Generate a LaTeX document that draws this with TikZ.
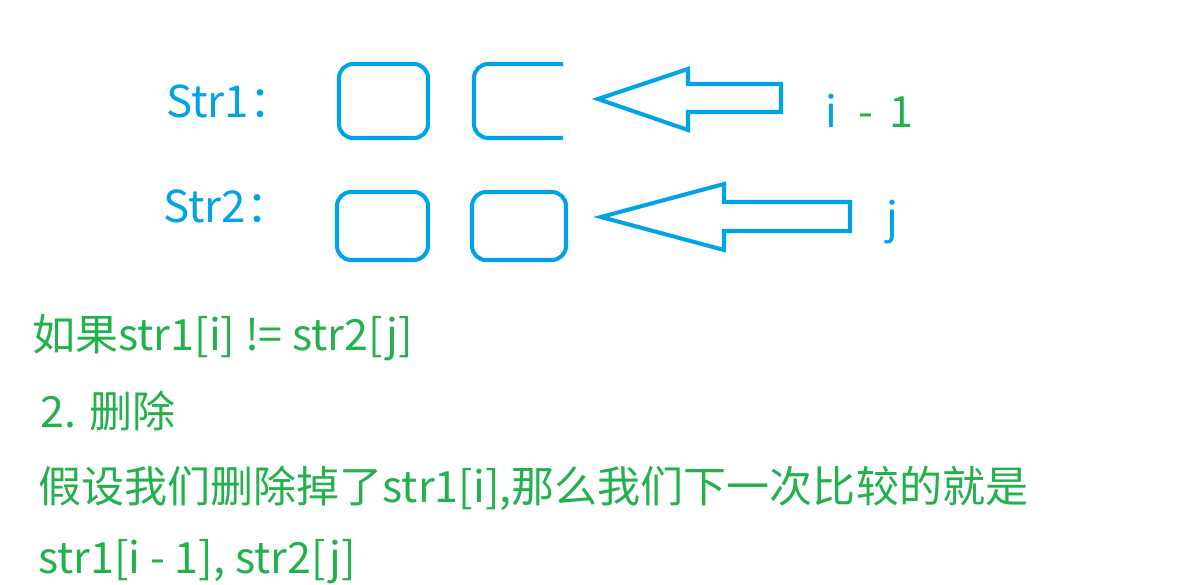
\documentclass[tikz,border=0pt]{standalone}
\usepackage{fontspec}
\setmainfont{Noto Sans CJK SC}
\usetikzlibrary{positioning}
\definecolor{strblue}{HTML}{00A2E8}
\definecolor{strgreen}{HTML}{22B14C}

\begin{document}
\begin{tikzpicture}[
    x=0.02cm, y=-0.02cm,
    kotak/.style={draw=strblue, line width=2.3pt, rounded corners=8pt, inner sep=0pt},
    panah/.style={draw=strblue, line width=2.3pt},
    lbl/.style={anchor=base west, inner sep=0pt, text=strblue, font=\fontsize{25}{30}\selectfont},
    teks/.style={anchor=base west, inner sep=0pt, text=strgreen, font=\fontsize{24.5}{29}\selectfont}
  ]
    \useasboundingbox (0,0) rectangle (1177,585);
    \node[lbl] (lblsa) at (166,117) {Str1：};
    \node[lbl] (lblsb) at (163,222) {Str2：};
    \node[kotak, minimum width=1.78cm, minimum height=1.48cm] (sa1) at (383.5,101) {};
    \begin{scope}
      \clip (0,0) rectangle (563,585);
      \node[kotak, minimum width=2.0cm, minimum height=1.48cm] (sa2) at (524,101) {};
    \end{scope}
    \node[kotak, minimum width=1.82cm, minimum height=1.36cm] (sb1) at (382.5,226) {};
    \node[kotak, minimum width=1.88cm, minimum height=1.36cm] (sb2) at (519,226) {};
    \draw[panah] (598,99) -- (688,69) -- (688,84) -- (781,84) -- (781,112)
      -- (688,112) -- (688,130) -- cycle;
    \draw[panah] (601,217) -- (724,184) -- (724,202) -- (850,202) -- (850,231)
      -- (724,231) -- (724,250) -- cycle;
    \node[teks] (idxa) at (825,127) {\textcolor{strblue}{i}\hspace{12pt}-\hspace{9pt}1};
    \node[teks, text=strblue] (idxb) at (886,233) {j};
    \node[teks] (baris1) at (32,350) {如果str1[i] != str2[j]};
    \node[teks] (baris2) at (40,427) {2. 删除};
    \node[teks] (baris3) at (38,502) {假设我们删除掉了str1[i],那么我们下一次比较的就是};
    \node[teks] (baris4) at (38,573) {str1[i - 1], str2[j]};
  \end{tikzpicture}
\end{document}
